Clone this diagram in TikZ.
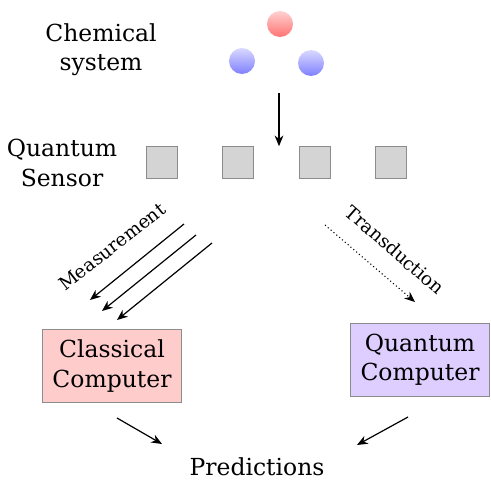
\documentclass[tikz,border=0pt]{standalone}
\usepackage{fontspec}
\setmainfont{DejaVu Serif}
\usetikzlibrary{positioning, arrows.meta}

\definecolor{classfill}{RGB}{255,204,204}
\definecolor{quantfill}{RGB}{221,206,255}

\tikzset{
  atomred/.style={circle, inner sep=0pt, minimum size=19.5pt, shading=axis, shading angle=-45, top color=red!18, bottom color=red!55},
  atomblue/.style={circle, inner sep=0pt, minimum size=19.5pt, shading=axis, shading angle=-45, top color=blue!15, bottom color=blue!50},
  qubit/.style={rectangle, draw=black!45, fill=black!17, minimum size=23.5pt, inner sep=0pt},
  machine/.style={rectangle, draw=black!45, line width=0.6pt, align=center, minimum width=104pt, minimum height=55pt, inner sep=2pt},
  caption/.style={align=center, font=\fontsize{17.6}{22}\selectfont},
  slanted/.style={font=\fontsize{13.8}{16}\selectfont},
}

\begin{document}
\begin{tikzpicture}[x=0.75pt, y=-0.75pt, >={Stealth[length=8pt, width=6.5pt, inset=2.5pt]}, line width=0.9pt]
            \useasboundingbox (0, 0) rectangle (491, 485);

            \node[atomred] (o) at (280, 24) {};
            \node[atomblue] (h1) at (242, 61) {};
            \node[atomblue] (h2) at (311, 63) {};
            \node[caption] (chem) at (101, 50) {Chemical\\system};

            \node[qubit] (s1) at (162, 162.5) {};
            \node[qubit] (s2) at (238, 162.5) {};
            \node[qubit] (s3) at (315, 162.5) {};
            \node[qubit] (s4) at (391, 162.5) {};
            \node[caption] (sensor) at (62, 163) {Quantum\\Sensor};

            \coordinate (top) at (279, 93);
            \draw[->] (top) -- (s3.north west -| top);

            \node[machine, fill=classfill, caption] (cc) at (112, 366) {Classical\\Computer};
            \node[machine, fill=quantfill, caption] (qc) at (420, 360) {Quantum\\Computer};
            \node[caption] (pred) at (257, 467) {Predictions};

            \coordinate (m1) at (184, 224);
            \coordinate (m2) at (196, 235);
            \coordinate (m3) at (212, 243);
            \coordinate (c1) at (90, 300);
            \coordinate (c2) at (102, 311);
            \coordinate (c3) at (117, 320);
            \draw[->] (m1) -- (c1);
            \draw[->] (m2) -- (c2);
            \draw[->] (m3) -- (c3);
            \node[rotate=38, slanted] (meas) at (112, 247) {Measurement};

            \coordinate (t1) at (325, 225);
            \coordinate (t2) at (415, 302);
            \draw[->, dotted, line width=0.8pt] (t1) -- (t2);
            \node[rotate=-41, slanted] (trans) at (395, 250) {Transduction};

            \coordinate (cl) at (117, 418);
            \coordinate (pl) at (162, 444);
            \coordinate (qr) at (408, 417);
            \coordinate (pr) at (357, 445);
            \draw[->] (cl) -- (pl);
            \draw[->] (qr) -- (pr);
        \end{tikzpicture}
\end{document}
